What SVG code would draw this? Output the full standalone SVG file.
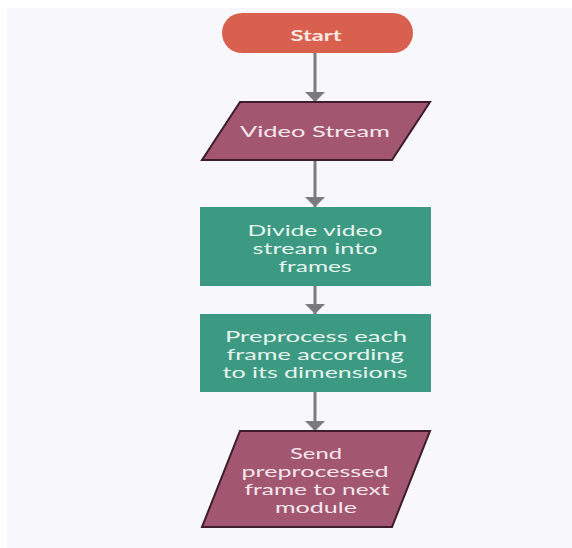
<svg xmlns="http://www.w3.org/2000/svg" width="572" height="548" viewBox="0 0 572 548">
  <defs>
    <marker id="arrow" viewBox="0 0 10 20" markerWidth="10" markerHeight="20" refX="10" refY="10" orient="auto" markerUnits="userSpaceOnUse">
      <path d="M0,0 L10,10 L0,20 z" fill="#7b7b7d"/>
    </marker>
    <style>
      .lbl { font-family: Lato, "Open Sans", "Liberation Sans", sans-serif; font-size: 16px; text-anchor: middle; }
      .pink { fill: #f6e6ee; }
      .green { fill: #e6f4ee; }
      .conn { stroke: #7b7b7d; stroke-width: 3; fill: none; marker-end: url(#arrow); }
      .para { fill: #a2566f; stroke: #3e1c2b; stroke-width: 2; }
      .proc { fill: #3c9a82; }
    </style>
  </defs>
  <rect x="0" y="0" width="572" height="548" fill="#ffffff"/>
  <rect x="7" y="8" width="565" height="540" fill="#f7f7fc"/>

  <g id="connectors">
    <line class="conn" x1="315" y1="53" x2="315" y2="102"/>
    <line class="conn" x1="315" y1="160" x2="315" y2="207"/>
    <line class="conn" x1="315" y1="286" x2="315" y2="314"/>
    <line class="conn" x1="315" y1="392" x2="315" y2="431"/>
  </g>

  <g id="start">
    <rect x="222" y="13" width="191" height="40" rx="20" ry="20" fill="#d9604f"/>
    <text class="lbl" x="316" y="41" fill="#fbe9e4" font-weight="bold" textLength="51" lengthAdjust="spacingAndGlyphs">Start</text>
  </g>

  <g id="video-stream">
    <polygon class="para" points="240,102 430,102 392,160 202,160"/>
    <text class="lbl pink" x="315" y="137" textLength="150" lengthAdjust="spacingAndGlyphs">Video Stream</text>
  </g>

  <g id="divide">
    <rect class="proc" x="200" y="207" width="231" height="79"/>
    <text class="lbl green" x="315" y="236" textLength="135" lengthAdjust="spacingAndGlyphs">Divide video</text>
    <text class="lbl green" x="315" y="254" textLength="125" lengthAdjust="spacingAndGlyphs">stream into</text>
    <text class="lbl green" x="315" y="272" textLength="73" lengthAdjust="spacingAndGlyphs">frames</text>
  </g>

  <g id="preprocess">
    <rect class="proc" x="200" y="314" width="231" height="78"/>
    <text class="lbl green" x="316" y="342" textLength="182" lengthAdjust="spacingAndGlyphs">Preprocess each</text>
    <text class="lbl green" x="315" y="360" textLength="177" lengthAdjust="spacingAndGlyphs">frame according</text>
    <text class="lbl green" x="315" y="378" textLength="185" lengthAdjust="spacingAndGlyphs">to its dimensions</text>
  </g>

  <g id="send">
    <polygon class="para" points="240,431 430,431 392,527 202,527"/>
    <text class="lbl pink" x="316" y="459" textLength="52" lengthAdjust="spacingAndGlyphs">Send</text>
    <text class="lbl pink" x="315" y="477" textLength="147" lengthAdjust="spacingAndGlyphs">preprocessed</text>
    <text class="lbl pink" x="317" y="495" textLength="145" lengthAdjust="spacingAndGlyphs">frame to next</text>
    <text class="lbl pink" x="316" y="513" textLength="82" lengthAdjust="spacingAndGlyphs">module</text>
  </g>
</svg>
